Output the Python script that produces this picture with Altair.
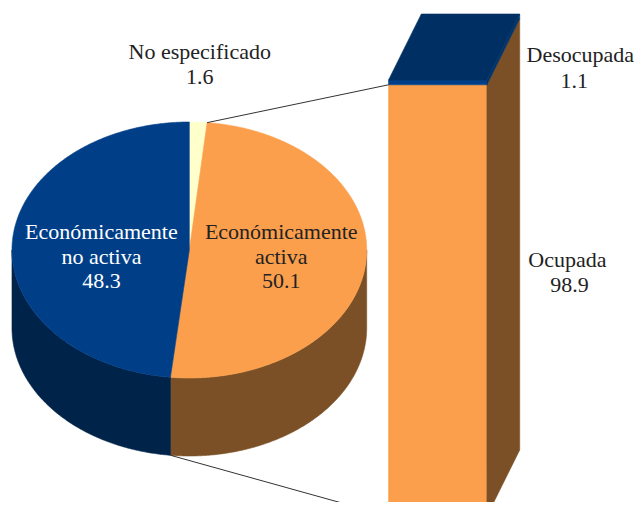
import math
import altair as alt
import pandas as pd

# ---------------- data ----------------
pie_categories = ["No especificado", "Económicamente activa", "Económicamente no activa"]
pie_values = [1.6, 50.1, 48.3]
pie_label_lines = [["No especificado"], ["Económicamente", "activa"], ["Económicamente", "no activa"]]

bar_categories = ["Ocupada", "Desocupada"]   # bottom -> top
bar_values = [98.9, 1.1]

# ---------------- styles / layout ----------------
pie_top_colors = ["#FFFFCC", "#FB9F4C", "#003F88"]
pie_side_colors = ["#E6E6B8", "#7B5027", "#00234A"]
pie_text_colors = ["#222222", "#222222", "#FFFFFF"]
bar_front_colors = ["#FB9F4C", "#003F88"]
bar_side_colors = ["#7B5027", "#00336A"]
bar_top_color = "#003063"

CX, CY, RX, RY, DEPTH = 190.5, 250.0, 178.5, 128.0, 78.0
START_DEG = 0.0
BX0, BX1, BTOP, BBOT = 391.0, 490.0, 80.0, 516.0
BDX, BDY = 33.0, -66.0
FONT = "Times New Roman, Times, Liberation Serif, DejaVu Serif, Noto Serif, serif"
FS = 22
LINE_H = 24.5

# label anchors (x center, first baseline)
pie_label_pos = [(201, 59), (283, 239), (102, 239)]
bar_label_pos = [[(571, 267), (573, 292)], [(584, 62), (578, 88)]]

X0, X1, Y0, Y1 = 8, 634, 8, 502


def ell(deg, dy=0.0):
    r = math.radians(deg)
    return CX + RX * math.sin(r), CY - RY * math.cos(r) + dy


def arc(a, b, dy=0.0):
    n = max(2, int(abs(b - a) / 0.5) + 1)
    return [ell(a + (b - a) * i / (n - 1), dy) for i in range(n)]


rows = []


def add_poly(sid, pts, color):
    for i, (x, y) in enumerate(pts):
        rows.append({"sid": sid, "o": i, "x": x, "y": y, "fill": color})


# pie slices
total = sum(pie_values)
angles = []
acc = START_DEG
for v in pie_values:
    a = acc
    acc += v / total * 360.0
    angles.append((a, acc))

for k, (a, b) in enumerate(angles):
    # visible side (front half 90..270)
    sa, sb = max(a, 90.0), min(b, 270.0)
    if sb > sa:
        pts = arc(sa, sb) + arc(sa, sb, DEPTH)[::-1]
        add_poly(f"side{k}", pts, pie_side_colors[k])
    pts = [(CX, CY)] + arc(a, b)
    add_poly(f"top{k}", pts, pie_top_colors[k])

# bar
btotal = sum(bar_values)
y = BBOT
bar_segments = []
for k, v in enumerate(bar_values):
    h = v / btotal * (BBOT - BTOP)
    y_top = y - h
    bar_segments.append((y, y_top))
    add_poly(f"bf{k}", [(BX0, y), (BX1, y), (BX1, y_top), (BX0, y_top)], bar_front_colors[k])
    add_poly(f"bs{k}", [(BX1, y), (BX1 + BDX, y + BDY), (BX1 + BDX, y_top + BDY), (BX1, y_top)], bar_side_colors[k])
    y = y_top
add_poly("btop", [(BX0, BTOP), (BX1, BTOP), (BX1 + BDX, BTOP + BDY), (BX0 + BDX, BTOP + BDY)], bar_top_color)

poly_df = pd.DataFrame(rows)

xs = alt.Scale(domain=[X0, X1], nice=False, zero=False)
ys = alt.Scale(domain=[Y0, Y1], nice=False, zero=False, reverse=True)

polys = alt.Chart(poly_df).mark_line(
    filled=True, interpolate="linear-closed", clip=True, strokeWidth=0.6
).encode(
    x=alt.X("x:Q", scale=xs, axis=None),
    y=alt.Y("y:Q", scale=ys, axis=None),
    detail="sid:N",
    order="o:Q",
    fill=alt.Fill("fill:N", scale=None),
    stroke=alt.Stroke("fill:N", scale=None),
)

# connector lines
p_start = ell(angles[0][1])
p_end = ell(angles[1][1], DEPTH)
conn_df = pd.DataFrame([
    {"x": p_start[0], "y": p_start[1], "x2": BX0, "y2": bar_segments[0][1]},
    {"x": p_end[0], "y": p_end[1], "x2": BX0, "y2": bar_segments[0][0]},
])
conns = alt.Chart(conn_df).mark_rule(color="#333333", strokeWidth=1, clip=True).encode(
    x=alt.X("x:Q", scale=xs, axis=None), y=alt.Y("y:Q", scale=ys, axis=None),
    x2="x2:Q", y2="y2:Q",
)

# labels
trows = []
for k, cat in enumerate(pie_categories):
    lines = pie_label_lines[k] + [f"{pie_values[k]:.1f}"]
    x0, y0 = pie_label_pos[k]
    for i, t in enumerate(lines):
        trows.append({"x": x0, "y": y0 + i * LINE_H, "t": t, "c": pie_text_colors[k]})
for k, cat in enumerate(bar_categories):
    lines = [cat, f"{bar_values[k]:.1f}"]
    for i, t in enumerate(lines):
        x0, y0 = bar_label_pos[k][i]
        trows.append({"x": x0, "y": y0, "t": t, "c": "#222222"})
text_df = pd.DataFrame(trows)

texts = alt.Chart(text_df).mark_text(
    font=FONT, fontSize=FS, baseline="alphabetic", align="center"
).encode(
    x=alt.X("x:Q", scale=xs, axis=None), y=alt.Y("y:Q", scale=ys, axis=None),
    text="t:N", color=alt.Color("c:N", scale=None),
)

chart = alt.layer(polys, conns, texts).properties(
    width=626, height=494, padding=0,
    autosize=alt.AutoSizeParams(type="fit", contains="padding"),
).configure_view(stroke=None).configure_text(font=FONT)

chart.save("out.html", embed_options={"renderer": "svg", "actions": False})
